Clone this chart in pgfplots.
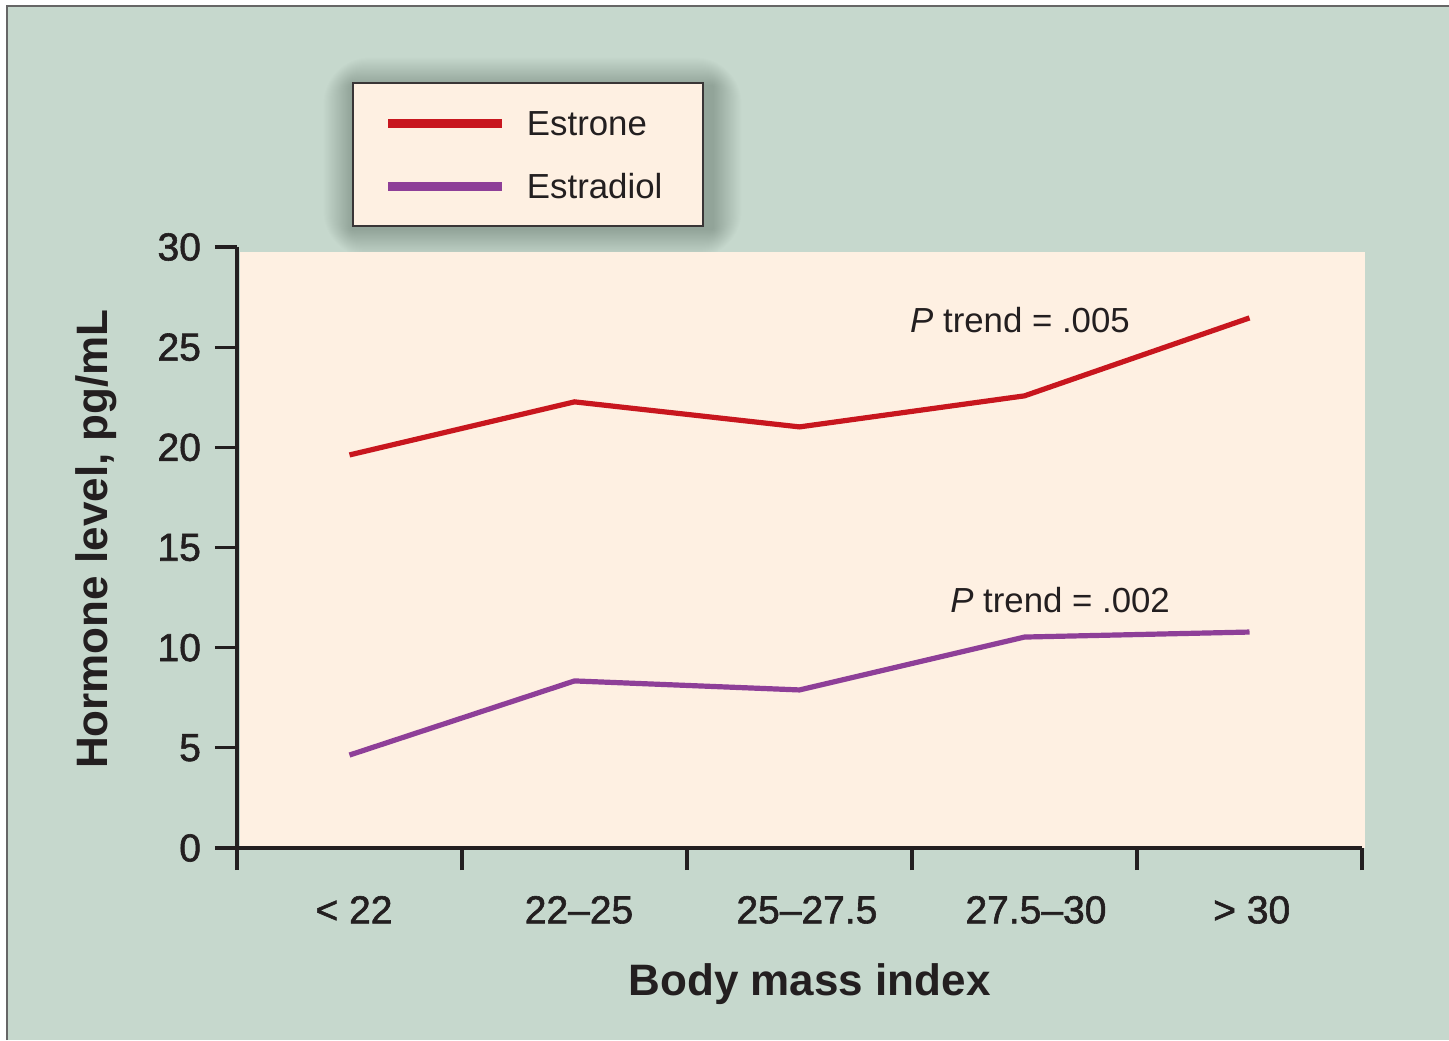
\documentclass[border=0pt]{standalone}
\usepackage{pgfplots}
\pgfplotsset{compat=1.18}
\usepackage{fontspec}
\setmainfont{Liberation Sans}
\newfontfamily\medfont[FakeBold=1.5]{Liberation Sans}
\definecolor{bg}{HTML}{C6D8CD}
\definecolor{cream}{HTML}{FEF0E2}
\definecolor{estrone}{HTML}{C8161E}
\definecolor{estradiol}{HTML}{8E3F98}
\definecolor{axisc}{HTML}{231F20}
\begin{document}
\begin{tikzpicture}
\fill[bg] (0,0) rectangle (724.5pt,520pt);
\fill[white] (0,517.5pt) rectangle (724.5pt,520pt);
\fill[white] (0,0) rectangle (3pt,520pt);
\draw[black!60, line width=1pt] (3.5pt,0) -- (3.5pt,517pt) -- (724.5pt,517pt);
\foreach \i in {1,...,26} {
  \fill[black, opacity=0.0095, rounded corners=\i*0.9pt] (176pt-\i*0.55pt, 407.5pt-\i*0.55pt-2pt) rectangle (356.5pt+\i*0.55pt, 479pt+\i*0.55pt-2pt);
}
\fill[cream] (120pt,96pt) rectangle (682.5pt,394pt);
\begin{axis}[
  scale only axis, width=562.5pt, height=300.5pt,
  at={(118.5pt,96pt)}, anchor=south west,
  xmin=0, xmax=5, ymin=0, ymax=30, clip=false,
  axis x line=bottom, axis y line=left,
  axis line style={-, line width=1.6pt, axisc},
  xtick={0,...,5}, xticklabels={},
  extra x ticks={0.52,1.52,2.533,3.551,4.51},
  extra x tick labels={{< 22},{22–25},{25–27.5},{27.5–30},{> 30}},
  extra x tick style={tick style={draw=none}},
  ytick={0,5,...,30},
  tick align=outside, major tick length=11pt,
  tick style={line width=1.6pt, axisc},
  xticklabel style={font=\medfont\fontsize{19.5}{20}\selectfont, text=axisc, yshift=-9.5pt},
  yticklabel style={font=\medfont\fontsize{19.5}{20}\selectfont, text=axisc, xshift=-3.5pt},
  /pgf/number format/assume math mode=true,
  xlabel={Body mass index},
  ylabel={Hormone level, pg/mL},
  xlabel style={at={(axis description cs:0.509,-0.2446)}, anchor=base, font=\bfseries\fontsize{22}{24}\selectfont, text=axisc},
  ylabel style={at={(axis description cs:-0.1155,0.514)}, anchor=base, font=\bfseries\fontsize{22}{24}\selectfont, text=axisc},
  legend style={at={(axis description cs:0.1022,1.2745)}, anchor=north west,
    draw=axisc!90, line width=1pt, fill=cream,
    inner xsep=15.5pt, inner ysep=13.75pt, row sep=19pt, column sep=10pt,
    font=\fontsize{17.4}{18}\selectfont, text=axisc,
    nodes={inner sep=0pt, text height=12.5pt, text depth=0pt}},
  legend cell align=left,
  legend image code/.code={\draw[line width=4.5pt] (0pt,0pt) -- (57pt,0pt);},
]
\addplot[estrone, line width=2.6pt] coordinates {(0.5,19.62) (1.5,22.27) (2.5,21.02) (3.5,22.57) (4.5,26.46)};
\addlegendentry{Estrone}
\addplot[estradiol, line width=2.6pt] coordinates {(0.5,4.64) (1.5,8.34) (2.5,7.89) (3.5,10.53) (4.5,10.78)};
\addlegendentry{Estradiol\hspace*{5pt}\mbox{}}
\node[anchor=base, font=\fontsize{17.4}{18}\selectfont, text=axisc] at (axis cs:3.48,25.71) {\textit{P} trend = .005};
\node[anchor=base, font=\fontsize{17.4}{18}\selectfont, text=axisc] at (axis cs:3.658,11.78) {\textit{P} trend = .002};
\end{axis}
\pgfresetboundingbox
\path (0,0) rectangle (724.5pt,520pt);
\end{tikzpicture}
\end{document}
